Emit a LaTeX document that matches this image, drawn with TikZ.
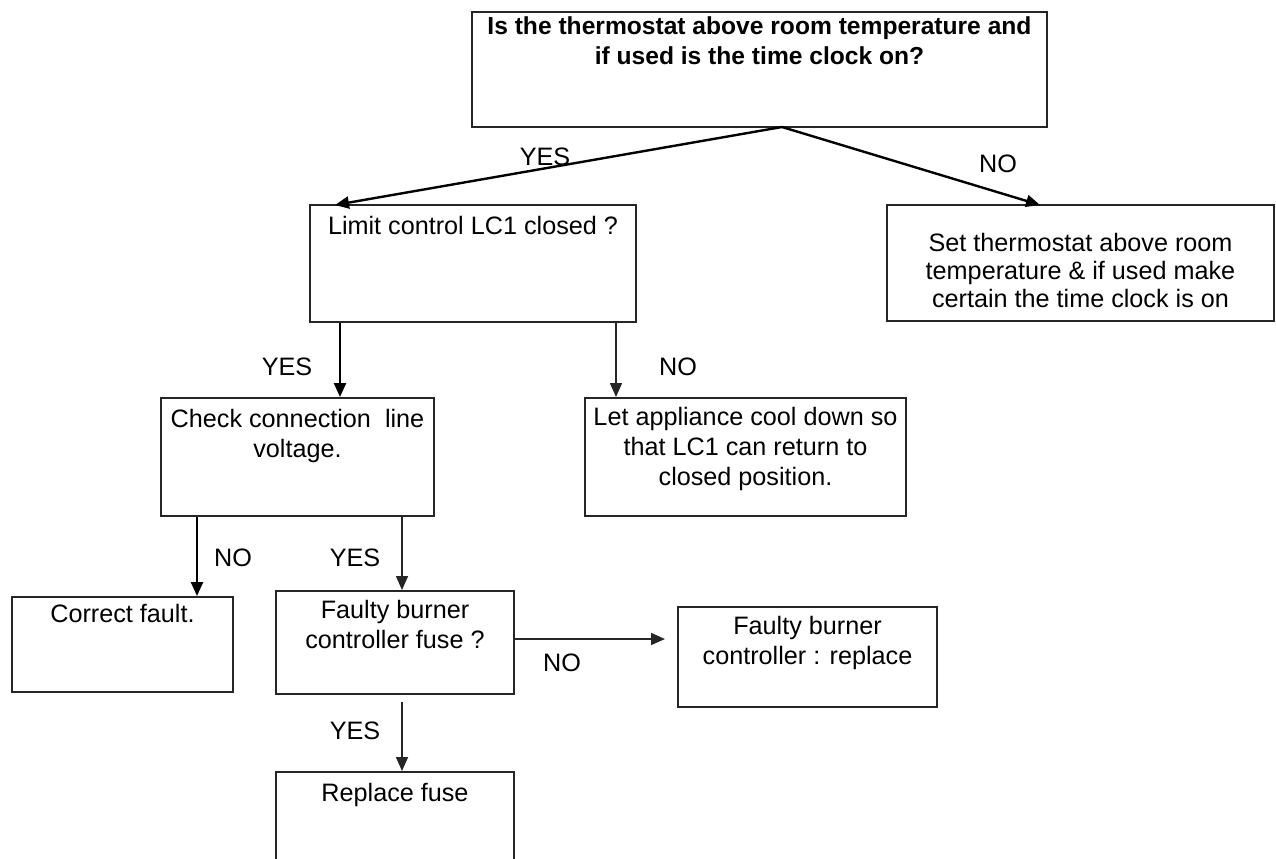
\documentclass[tikz,border=0pt]{standalone}
\usepackage{fontspec}
\setmainfont{Liberation Sans}
\usetikzlibrary{arrows.meta}
\tikzset{
  box/.style={draw=black!85, line width=1pt, minimum width=#1, inner sep=0pt},
  txt/.style={align=center, inner sep=0pt, font=\fontsize{12.6}{15}\selectfont, anchor=north},
  lbl/.style={inner sep=0pt, font=\fontsize{12.6}{15}\selectfont},
  arr/.style={-{Triangle[length=7pt,width=6pt]}, line width=0.8pt, draw=black!85},
  tarr/.style={-{Triangle[length=7pt,width=6pt]}, line width=1.2pt, draw=black}
}
\begin{document}
\begin{tikzpicture}[x=0.5pt,y=-0.5pt]
\useasboundingbox (0,0) rectangle (1276,858);
\clip (0,0) rectangle (1276,858);
% boxes
\node[box=287.5pt, minimum height=57.5pt] (top) at (759.5,69.5) {};
\node[box=163pt, minimum height=58.5pt] (limit) at (473,263.5) {};
\node[box=193.5pt, minimum height=58pt] (set) at (1080.5,263) {};
\node[box=136.5pt, minimum height=59pt] (check) at (297.5,457) {};
\node[box=160.5pt, minimum height=59pt] (cool) at (745.5,457) {};
\node[box=110.5pt, minimum height=47.5pt] (correct) at (122.5,644.5) {};
\node[box=119pt, minimum height=51.5pt] (fuse) at (395,642.5) {};
\node[box=129.5pt, minimum height=50pt] (ctrl) at (807.5,657) {};
\node[box=119pt, minimum height=60pt] (repl) at (395,832) {};
% texts
\node[txt, font=\fontsize{12.3}{15}\selectfont\bfseries] (topt) at ([yshift=-2.5pt]top.north) {Is the thermostat above room temperature and\\if used is the time clock on?};
\node[txt] (limitt) at ([yshift=-6pt]limit.north) {Limit control LC1 closed ?};
\node[txt, font=\fontsize{12.6}{14}\selectfont] (sett) at ([yshift=-14.5pt]set.north) {Set thermostat above room\\temperature \& if used make\\certain the time clock is on};
\node[txt] (checkt) at ([yshift=-6pt]check.north) {Check connection\ \ line\\voltage.};
\node[txt] (coolt) at ([yshift=-5pt]cool.north) {Let appliance cool down so\\that LC1 can return to\\closed position.};
\node[txt] (correctt) at ([yshift=-4pt]correct.north) {Correct fault.};
\node[txt] (fuset) at ([yshift=-5pt]fuse.north) {Faulty burner\\controller fuse ?};
\node[txt] (ctrlt) at ([yshift=-5pt]ctrl.north) {Faulty burner\\controller : replace};
\node[txt] (replt) at ([yshift=-6pt]repl.north) {Replace fuse};
% connector end points
\coordinate (apex) at (782,127);
\coordinate (limitin) at (335,205);
\coordinate (setin) at (1040,205);
% connectors
\draw[tarr] (apex) -- (limitin);
\draw[tarr] (apex) -- (setin);
\draw[tarr] (limit.south -| 340,0) -- (check.north -| 340,0);
\draw[arr] (limit.south -| 616,0) -- (cool.north -| 616,0);
\draw[tarr] (check.south -| 197,0) -- (correct.north -| 197,0);
\draw[arr] (check.south -| 402,0) -- (fuse.north -| 402,0);
\draw[arr] (fuse.east |- 0,639) -- ([xshift=-6pt]ctrl.west |- 0,639);
\draw[arr] (402,702) -- (repl.north -| 402,0);
% labels
\node[lbl] (l1) at (545,157) {YES};
\node[lbl] (l2) at (998,164) {NO};
\node[lbl] (l3) at (287,367) {YES};
\node[lbl] (l4) at (678,367) {NO};
\node[lbl] (l5) at (233,558) {NO};
\node[lbl] (l6) at (355,558) {YES};
\node[lbl] (l7) at (562,663) {NO};
\node[lbl] (l8) at (355,731) {YES};
\end{tikzpicture}
\end{document}
